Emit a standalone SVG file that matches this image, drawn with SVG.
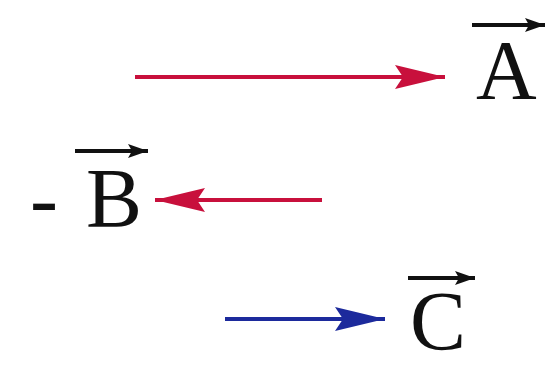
<svg xmlns="http://www.w3.org/2000/svg" width="557" height="371" viewBox="0 0 557 371">
<style>
.lbl{font-family:'Liberation Serif','Times New Roman',serif;font-size:84px;fill:#111}
.red{stroke:#c8103c;stroke-width:4;fill:none}
.blue{stroke:#1c2a9c;stroke-width:4;fill:none}
.ov{stroke:#111;stroke-width:4;fill:none}
</style>
<defs>
<marker id="hr" markerUnits="userSpaceOnUse" markerWidth="50" markerHeight="24" refX="50" refY="12" orient="auto"><path d="M0,0 L50,12 L0,24 L8,12 Z" fill="#c8103c"/></marker>
<marker id="hb" markerUnits="userSpaceOnUse" markerWidth="50" markerHeight="24" refX="50" refY="12" orient="auto"><path d="M0,0 L50,12 L0,24 L8,12 Z" fill="#1c2a9c"/></marker>
<marker id="hk" markerUnits="userSpaceOnUse" markerWidth="20" markerHeight="14" refX="20" refY="7" orient="auto"><path d="M0,0 L20,7 L0,14 L4,7 Z" fill="#111"/></marker>
</defs>
<g id="connectors">
<line class="red" x1="135" y1="77" x2="445" y2="77" marker-end="url(#hr)"/>
<line class="red" x1="322" y1="200" x2="155" y2="200" marker-end="url(#hr)"/>
<line class="blue" x1="225" y1="319" x2="385" y2="319" marker-end="url(#hb)"/>
</g>
<g id="A">
<line class="ov" x1="472" y1="25" x2="545" y2="25" marker-end="url(#hk)"/>
<text class="lbl" font-family="Liberation Serif" x="476" y="99">A</text>
</g>
<g id="minusB">
<line class="ov" x1="75" y1="151" x2="148" y2="151" marker-end="url(#hk)"/>
<text class="lbl" font-family="Liberation Serif" x="30" y="227">-<tspan x="86">B</tspan></text>
</g>
<g id="C">
<line class="ov" x1="408" y1="278" x2="475" y2="278" marker-end="url(#hk)"/>
<text class="lbl" font-family="Liberation Serif" x="410" y="350">C</text>
</g>
</svg>
